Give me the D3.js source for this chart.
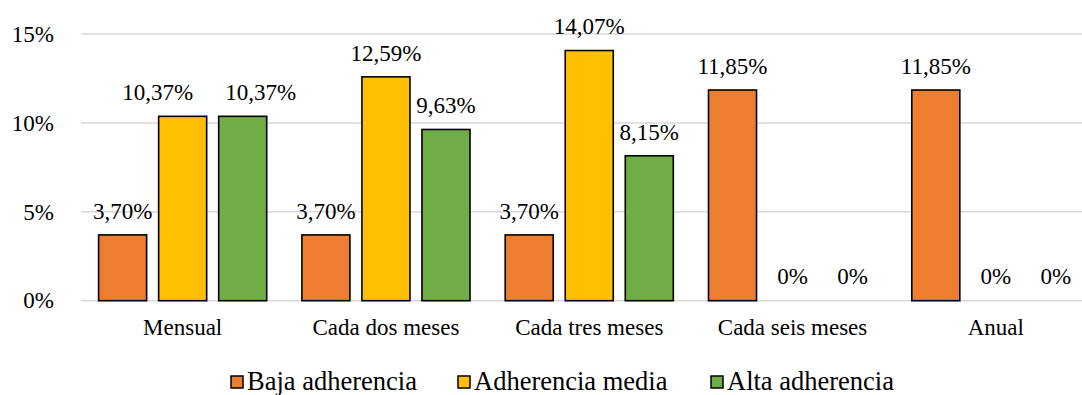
<!DOCTYPE html>
<html>
<head>
<meta charset="utf-8">
<script src="https://cdn.jsdelivr.net/npm/d3@7"></script>
<style>
  html, body { margin: 0; padding: 0; background: #fff; }
  #wrap { position: relative; width: 1082px; height: 395px; overflow: hidden; }
  #wrap svg { position: absolute; left: 0; top: 0; display: block; }
  .lbl { position: absolute; white-space: nowrap; line-height: 1; color: #000;
         font-family: "Liberation Serif", "Times New Roman", serif; }
</style>
</head>
<body>
<div id="wrap"><svg id="chart" width="1082" height="395"></svg></div>
<script>
// Frecuencia por nivel de adherencia (%)
const categories = ["Mensual", "Cada dos meses", "Cada tres meses", "Cada seis meses", "Anual"];
const series = ["Baja adherencia", "Adherencia media", "Alta adherencia"];
const baja   = [3.70, 3.70, 3.70, 11.85, 11.85];
const media  = [10.37, 12.59, 14.07, 0, 0];
const alta   = [10.37, 9.63, 8.15, 0, 0];
const yTicks = [0, 5, 10, 15];
const colors = ["#ED7D31", "#FFC000", "#70AD47"];

const values = [baja, media, alta];
const rows = categories.map((c, i) => ({
  cat: c,
  vals: series.map((s, j) => ({ key: s, value: values[j][i], color: colors[j], ci: i, si: j }))
}));

const wrap = d3.select("#wrap");
const svg = d3.select("#chart");
const left = 81, step = 203.3;

const x0 = d3.scaleBand().domain(categories).range([left, left + step * categories.length]);
const x1 = d3.scaleBand().domain(series).range([17.6, step - 17.6]).paddingInner(0.2);
const y = d3.scaleLinear().domain([0, 15]).range([300.7, 34]);

// text label placed by its baseline; anchor: start | middle | end
function addLabels(data, fx, fy, ftext, size, anchor) {
  const shift = anchor === "middle" ? "-50%" : anchor === "end" ? "-100%" : "0";
  wrap.selectAll(null).data(data).join("div")
    .attr("class", "lbl")
    .style("font-size", size + "px")
    .style("left", d => fx(d) + "px")
    .style("top", d => (fy(d) - 0.8375 * size) + "px")
    .style("transform", `translateX(${shift})`)
    .text(ftext);
}

// gridlines
svg.append("g").selectAll("line").data(yTicks).join("line")
  .attr("x1", left).attr("x2", 1082)
  .attr("y1", d => y(d)).attr("y2", d => y(d))
  .attr("stroke", "#d9d9d9").attr("stroke-width", 1.5);

// y tick labels
addLabels(yTicks, () => 54, d => y(d) + 8, d => d + "%", 23, "end");

// bars
const fmt = v => v === 0 ? "0%" : v.toFixed(2).replace(".", ",") + "%";
const groups = svg.append("g").selectAll("g").data(rows).join("g")
  .attr("transform", d => `translate(${x0(d.cat)},0)`);

groups.selectAll("rect").data(d => d.vals.filter(v => v.value > 0)).join("rect")
  .attr("x", d => x1(d.key))
  .attr("width", x1.bandwidth())
  .attr("y", d => y(d.value))
  .attr("height", d => y(0) - y(d.value))
  .attr("fill", d => d.color)
  .attr("stroke", "#000").attr("stroke-width", 1.6);

// value labels; the two equal labels of the first group are pushed apart so they don't collide
const nudge = (d) => d.ci === 0 ? [0, -25, 18][d.si] : 0;
const flat = rows.flatMap(r => r.vals.map(v => ({ ...v, cat: r.cat })));
addLabels(flat,
  d => x0(d.cat) + x1(d.key) + x1.bandwidth() / 2 + nudge(d),
  d => y(d.value) - 16,
  d => fmt(d.value), 23, "middle");

// category labels
addLabels(categories, d => x0(d) + x0.bandwidth() / 2, () => 335, d => d, 23, "middle");

// legend
const legendX = [231, 458, 711];
svg.append("g").selectAll("rect").data(series).join("rect")
  .attr("x", (d, i) => legendX[i]).attr("y", 376).attr("width", 12).attr("height", 12)
  .attr("fill", (d, i) => colors[i]).attr("stroke", "#000").attr("stroke-width", 1.5);
addLabels(series, d => legendX[series.indexOf(d)] + 16, () => 390, d => d, 26.5, "start");
</script>
</body>
</html>
